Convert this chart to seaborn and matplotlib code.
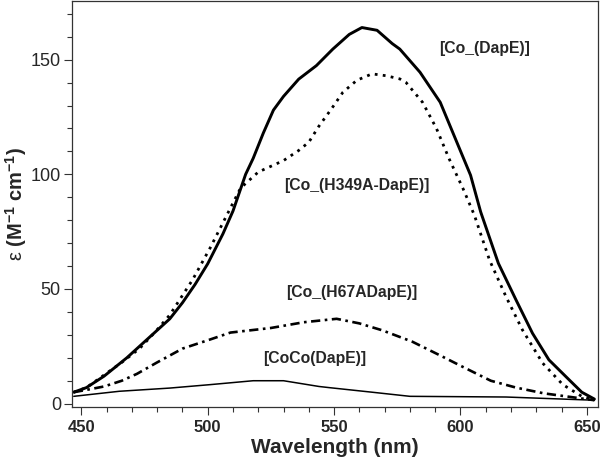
"""
Co(II)-substituted DapE electronic absorption spectra.
"""

import numpy as np
import pandas as pd
import matplotlib
matplotlib.use("Agg")
import matplotlib.pyplot as plt
from matplotlib.ticker import MultipleLocator
import seaborn as sns

# (wavelength in nm, epsilon in M^-1 cm^-1)
dape_nm = [447, 452, 459, 468, 477, 485, 490, 495, 500, 506, 510, 515, 518,
           522, 526, 530, 536, 543, 549.5, 556, 561, 567, 573, 576, 584, 592,
           598, 604, 608, 615, 622, 628.5, 635, 643, 648, 653]
dape_eps = [5, 7, 12, 20, 29, 37, 44, 52, 61, 74, 84, 100, 107,
            118, 128, 134, 141.5, 147.4, 154.6, 161, 164, 162.8, 157, 154.6, 144.5, 131.4,
            115.5, 99.6, 83.6, 61.2, 45.2, 30.7, 19.1, 10.4, 5, 2]

h349a_nm = [447, 452, 459, 466, 473, 479, 485, 494, 501, 507, 513, 520, 530,
            536, 540, 544, 549, 553.5, 559, 565, 570.5, 576, 578.5, 585, 590.5,
            595.5, 601, 605.5, 611.5, 618, 624.5, 632.5, 640.5, 648, 653]
h349a_eps = [5, 7, 12.5, 18, 24, 31, 38.7, 54, 68, 81, 94, 101, 106,
             110.4, 114, 121, 128.6, 135.8, 141, 143.8, 143, 141.6, 140, 131.4, 120,
             106.8, 93.8, 82.2, 62.6, 46.7, 32.2, 17.7, 8.3, 3.2, 1.5]

h67a_nm = [447, 452, 459, 466, 472, 480, 490, 501, 509, 517, 525, 538, 551, 560,
           569, 581, 592, 601, 612, 622, 633, 643, 653]
h67a_eps = [5, 6, 7.5, 10, 13, 18, 24, 28, 31, 32, 33, 35.5, 37, 35,
            32, 27, 21, 16, 10, 7, 4.5, 3, 1.5]

coco_nm = [447, 465, 485, 501, 518, 530, 544, 548, 565, 580, 618, 653]
coco_eps = [3.2, 5.4, 6.8, 8.3, 10, 10, 7.5, 7, 5, 3.2, 2.9, 1.5]

labels = ["[Co_(DapE)]", "[Co_(H349A-DapE)]", "[Co_(H67ADapE)]", "[CoCo(DapE)]"]
label_pos = [(609.5, 155), (559, 95), (557, 48.5), (542.5, 19.5)]

sns.set_style("ticks")
plt.rcParams["font.family"] = ["Liberation Sans", "DejaVu Sans"]
plt.rcParams["mathtext.fontset"] = "custom"
plt.rcParams["mathtext.rm"] = "Liberation Sans"
plt.rcParams["mathtext.bf"] = "Liberation Sans:bold"

fig = plt.figure(figsize=(6, 4.65), dpi=100)
ax = fig.add_axes([0.12, 0.125, 0.877, 0.873])

series = [
    (dape_nm, dape_eps, dict(lw=2.1, linestyle="-")),
    (h349a_nm, h349a_eps, dict(lw=2.0, linestyle=(0, (1, 1.9)))),
    (h67a_nm, h67a_eps, dict(lw=1.9, linestyle=(0, (3.5, 1.7, 1, 1.7)))),
    (coco_nm, coco_eps, dict(lw=1.1, linestyle="-")),
]
for nm, eps, style in series:
    df = pd.DataFrame({"nm": nm, "eps": eps})
    sns.lineplot(data=df, x="nm", y="eps", ax=ax, color="black", sort=False,
                 estimator=None, **style)

for text, (x, y) in zip(labels, label_pos):
    ax.text(x, y, text, ha="center", va="center", fontsize=11.3,
            fontweight="bold")

ax.set_xlim(446.3, 654.5)
ax.set_ylim(-1.4, 175.6)
ax.xaxis.set_major_locator(MultipleLocator(50))
ax.xaxis.set_minor_locator(MultipleLocator(10))
ax.yaxis.set_major_locator(MultipleLocator(50))
ax.yaxis.set_minor_locator(MultipleLocator(10))
ax.tick_params(which="major", length=6, width=0.8, color="#333333")
ax.tick_params(which="minor", length=3.6, width=0.8, color="#333333")
ax.tick_params(axis="y", labelsize=13, pad=2)
ax.tick_params(axis="x", labelsize=12)
for lab in ax.get_xticklabels():
    lab.set_fontweight("bold")

for side in ["left", "bottom", "top", "right"]:
    ax.spines[side].set_color("#333333")
    ax.spines[side].set_linewidth(0.9)

ax.set_xlabel("Wavelength (nm)", fontsize=15, fontweight="bold", labelpad=2)
ax.set_ylabel(r"$\mathrm{ε}$ (M$^{\mathbf{-1}}$ cm$^{\mathbf{-1}}$)", fontsize=14.5,
              fontweight="bold", labelpad=1)

fig.savefig("out.png", dpi=100)
